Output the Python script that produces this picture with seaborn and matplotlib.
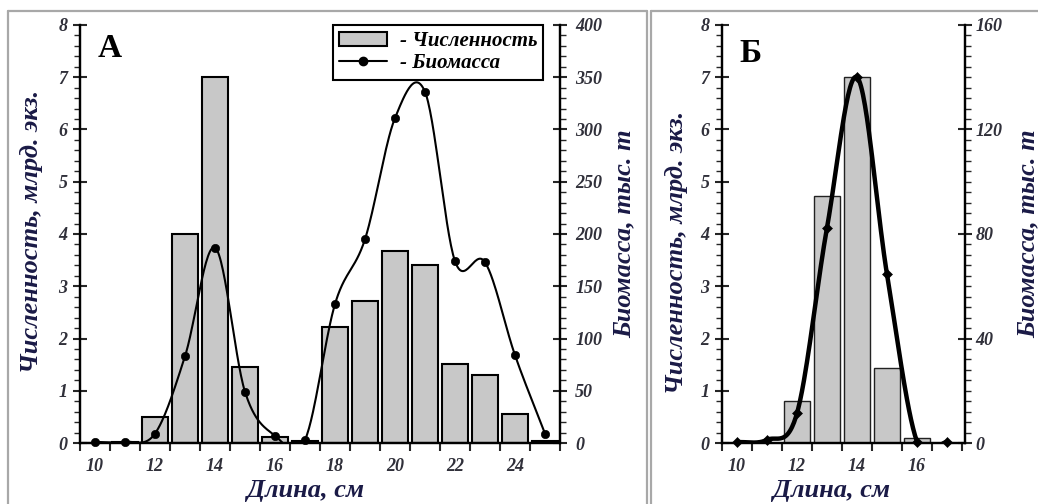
import numpy as np
import matplotlib
matplotlib.use("Agg")
import matplotlib.pyplot as plt
import seaborn as sns
from matplotlib.ticker import MultipleLocator, FixedLocator
from matplotlib.patches import Patch
from matplotlib.lines import Line2D

# ---------------- data ----------------
length_a = [10, 11, 12, 13, 14, 15, 16, 17, 18, 19, 20, 21, 22, 23, 24, 25]
count_a = [0.0, 0.02, 0.5, 4.0, 7.0, 1.45, 0.12, 0.03, 2.22, 2.71, 3.68, 3.41, 1.51, 1.30, 0.56, 0.03]
biomass_a = [1, 1, 9, 83, 187, 49, 7, 3, 133, 195, 311, 336, 174, 173, 84, 9]

length_b = [10, 11, 12, 13, 14, 15, 16, 17]
count_b = [0.0, 0.0, 0.8, 4.72, 7.0, 1.44, 0.09, 0.0]
biomass_b = [0.3, 1.2, 11.4, 82.4, 140, 64.6, 0.5, 0.3]

xticks_a = [10, 12, 14, 16, 18, 20, 22, 24]
xticks_b = [10, 12, 14, 16]

letter_a = "А"
letter_b = "Б"
xlabel = "Длина, см"
ylabel_left = "Численность, млрд. экз."
ylabel_right = "Биомасса, тыс. т"
legend_labels = ["- Численность", "- Биомасса"]

# ---------------- style ----------------
sns.set_style("ticks")
plt.rcParams["font.family"] = ["Liberation Serif", "DejaVu Serif"]
plt.rcParams["font.weight"] = "bold"
plt.rcParams["font.style"] = "italic"
plt.rcParams["axes.labelweight"] = "bold"

LABEL_C = "#1a1a46"
TICK_C = "#30303a"
BAR_C = "#c8c8c8"
LABEL_FS = 19
TICK_FS = 13

W, H = 1038, 504
fig = plt.figure(figsize=(W / 100, H / 100), dpi=100)


def smooth(x, y, n=30):
    """Catmull-Rom spline through the data points (drawing only)."""
    x = np.asarray(x, float)
    y = np.asarray(y, float)
    m = np.empty_like(y)
    m[1:-1] = (y[2:] - y[:-2]) / 2
    m[0] = y[1] - y[0]
    m[-1] = y[-1] - y[-2]
    t = np.linspace(0, 1, n, endpoint=False)
    h00 = 2 * t**3 - 3 * t**2 + 1
    h10 = t**3 - 2 * t**2 + t
    h01 = -2 * t**3 + 3 * t**2
    h11 = t**3 - t**2
    xs, ys = [], []
    for i in range(len(x) - 1):
        xs.append(x[i] + t * (x[i + 1] - x[i]))
        ys.append(h00 * y[i] + h10 * m[i] + h01 * y[i + 1] + h11 * m[i + 1])
    xs.append([x[-1]])
    ys.append([y[-1]])
    return np.concatenate(xs), np.concatenate(ys)


def px_rect(l, r, t, b):
    return [l / W, 1 - b / H, (r - l) / W, (b - t) / H]


def style_ticks(ax, pad):
    for lab in ax.get_yticklabels():
        lab.set_fontsize(TICK_FS)
        lab.set_color(TICK_C)
    ax.tick_params(axis="y", which="major", direction="inout", length=10, width=1.5, pad=pad)
    ax.tick_params(axis="y", which="minor", direction="out", length=4, width=1.0)


def panel(rect, lengths, counts, biomass, xlim, xticks, bmax, bmajor, bminor,
          letter, letter_pos, line_w, marker, msize, bar_lw, bar_ec,
          xlab_x, ylab_l, ylab_r, rpad, legend=False):
    ax = fig.add_axes(rect)
    sns.barplot(x=lengths, y=counts, native_scale=True, width=0.85, color=BAR_C,
                saturation=1, edgecolor=bar_ec, linewidth=bar_lw, errorbar=None, ax=ax)
    ax.set_xlim(*xlim)
    ax.set_ylim(0, 8)

    ax2 = ax.twinx()
    xs, ys = smooth(lengths, biomass)
    sns.lineplot(x=xs, y=ys, ax=ax2, color="black", linewidth=line_w,
                 estimator=None, sort=False)
    sns.scatterplot(x=lengths, y=biomass, ax=ax2, marker=marker, s=msize,
                    color="black", edgecolor="black", zorder=5, clip_on=False)
    ax2.set_ylim(0, bmax)
    ax2.set_xlim(*xlim)

    # x axis: labels at bin centres, tick marks at bin edges
    ax.xaxis.set_major_locator(FixedLocator(xticks))
    ax.set_xticklabels([str(v) for v in xticks], fontsize=TICK_FS, color=TICK_C)
    ax.xaxis.set_minor_locator(FixedLocator(np.arange(xlim[0], xlim[1] + 0.01, 1.0)))
    ax.tick_params(axis="x", which="major", length=0, pad=11)
    ax.tick_params(axis="x", which="minor", direction="out", length=6, width=1.5)

    ax.yaxis.set_major_locator(MultipleLocator(1))
    ax.yaxis.set_minor_locator(MultipleLocator(0.2))
    ax2.yaxis.set_major_locator(MultipleLocator(bmajor))
    ax2.yaxis.set_minor_locator(MultipleLocator(bminor))
    style_ticks(ax, 4)
    style_ticks(ax2, rpad)

    for a in (ax, ax2):
        a.spines["top"].set_visible(False)
        for s in ("left", "right", "bottom"):
            a.spines[s].set_linewidth(1.6)
            a.spines[s].set_color("black")

    ax.set_xlabel(xlabel, fontsize=LABEL_FS, color=LABEL_C, fontweight="bold")
    ax.xaxis.set_label_coords(xlab_x, -0.085)
    ax.set_ylabel(ylabel_left, fontsize=LABEL_FS, color=LABEL_C, fontweight="bold")
    ax.yaxis.set_label_coords(*ylab_l)
    ax2.set_ylabel(ylabel_right, fontsize=LABEL_FS, color=LABEL_C, fontweight="bold")
    ax2.yaxis.set_label_coords(*ylab_r)

    ax.text(letter_pos[0], letter_pos[1], letter, transform=ax.transAxes,
            fontsize=24, fontweight="bold", fontstyle="normal", color="black",
            ha="center", va="center")

    if legend:
        handles = [Patch(facecolor=BAR_C, edgecolor="black", linewidth=1.5),
                   Line2D([], [], color="black", lw=1.5, marker="o", markersize=6)]
        leg = ax2.legend(handles, legend_labels, loc="upper left",
                         bbox_to_anchor=(0.527, 1.0), borderaxespad=0,
                         frameon=True, fancybox=False, edgecolor="black",
                         framealpha=1,
                         prop=dict(family="Liberation Serif", weight="bold",
                                   style="italic", size=15),
                         handlelength=2.3, handletextpad=0.6, borderpad=0.3,
                         labelspacing=0.1)
        leg.get_frame().set_linewidth(1.5)
        for txt in leg.get_texts():
            txt.set_color("black")
    return ax, ax2


panel(px_rect(80, 560, 25, 443), length_a, count_a, biomass_a, (9.5, 25.5), xticks_a,
      400, 50, 10, letter_a, (0.0625, 0.943), 1.5, "o", 36, 1.5, "black",
      0.47, (-0.077, 0.505), (1.110, 0.5), 6, legend=True)

panel(px_rect(722, 965, 25, 443), length_b, count_b, biomass_b, (9.5, 17.6), xticks_b,
      160, 40, 4, letter_b, (0.119, 0.933), 3.2, "D", 26, 1.0, "#222222",
      0.45, (-0.14, 0.455), (1.214, 0.5), 2.5)

# panel frames
BORDER = "#a8a8a8"
for (x0, x1, y0, y1) in [(8, 8, 11, 504), (8, 647, 11, 11), (647, 647, 11, 504),
                         (651, 651, 11, 504), (651, 1038, 11, 11)]:
    fig.add_artist(Line2D([x0 / W, x1 / W], [1 - y0 / H, 1 - y1 / H],
                          transform=fig.transFigure, color=BORDER, lw=1.6))

fig.savefig("out.png", dpi=100)
